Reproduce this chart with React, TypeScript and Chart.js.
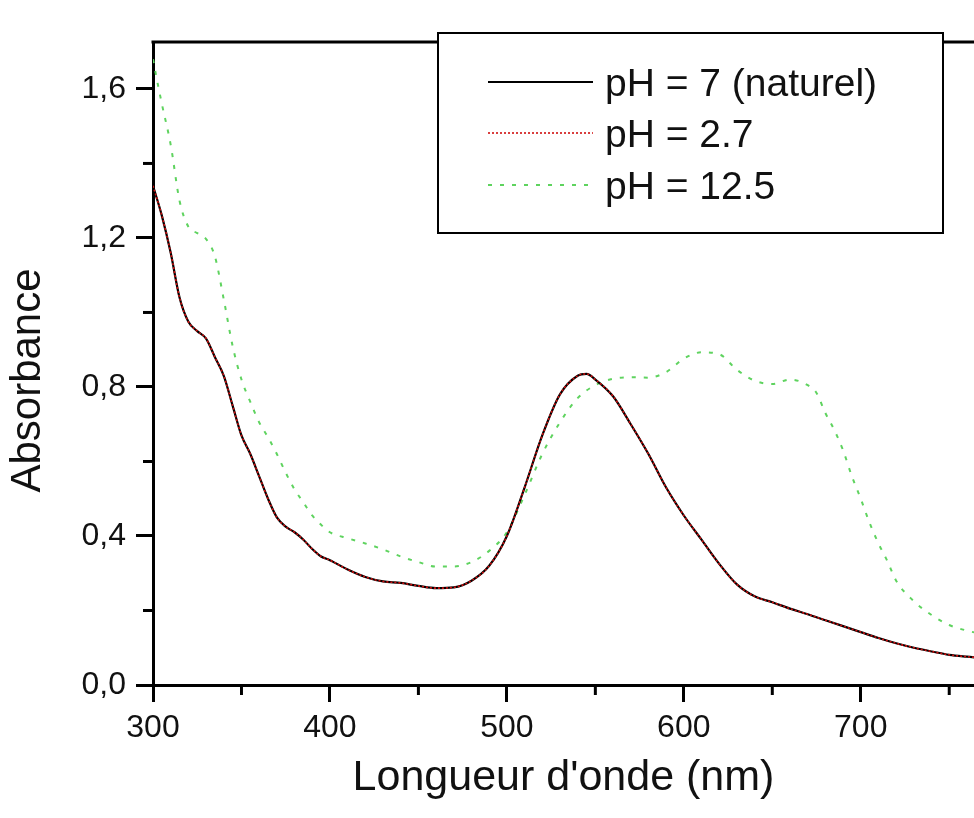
import React, { useEffect, useRef } from 'react';
import { Chart, registerables } from 'chart.js';

Chart.register(...registerables);

// ---- Data ----
const wavelengthsNeutral = [
  300, 305, 310, 315, 320, 325, 330, 335, 340, 345, 350, 355, 360, 365, 370, 375, 380, 385, 390, 395, 400,
  410, 420, 430, 440, 450, 460, 470, 480, 490, 500, 510, 520, 530, 540, 545,
  550, 560, 570, 580, 590, 600, 610, 620, 630, 640, 650, 660, 670, 680, 690, 700, 710, 720, 730, 740, 750, 760, 770, 780, 790, 800,
];
const absNaturel = [
  1.34, 1.26, 1.16, 1.04, 0.975, 0.95, 0.93, 0.88, 0.83, 0.75, 0.67, 0.62, 0.56, 0.5, 0.45, 0.425, 0.41, 0.39, 0.365, 0.345, 0.335,
  0.31, 0.29, 0.278, 0.274, 0.266, 0.26, 0.262, 0.28, 0.32, 0.4, 0.53, 0.67, 0.78, 0.83, 0.835,
  0.82, 0.775, 0.7, 0.62, 0.53, 0.455, 0.39, 0.325, 0.27, 0.238, 0.222, 0.205, 0.19, 0.174, 0.158, 0.142, 0.126, 0.112, 0.1, 0.09, 0.081, 0.076, 0.072, 0.068, 0.065, 0.062,
];
const absAcide = [
  1.34, 1.26, 1.16, 1.04, 0.975, 0.95, 0.93, 0.88, 0.83, 0.75, 0.67, 0.62, 0.56, 0.5, 0.45, 0.425, 0.41, 0.39, 0.365, 0.345, 0.335,
  0.31, 0.29, 0.278, 0.274, 0.266, 0.26, 0.262, 0.28, 0.32, 0.4, 0.53, 0.67, 0.78, 0.83, 0.835,
  0.82, 0.775, 0.7, 0.62, 0.53, 0.455, 0.39, 0.325, 0.27, 0.238, 0.222, 0.205, 0.19, 0.174, 0.158, 0.142, 0.126, 0.112, 0.1, 0.09, 0.081, 0.076, 0.072, 0.068, 0.065, 0.062,
];
const wavelengthsBasique = [
  300, 302, 305, 310, 315, 320, 325, 330, 335, 340, 345, 350, 355, 360, 365, 370, 375, 380, 385, 390, 395, 400,
  410, 420, 430, 440, 450, 460, 470, 480, 490, 500, 510, 520, 530, 540, 550, 560, 570, 580, 590, 600, 610, 620, 630, 640, 650, 660, 670,
  675, 680, 685, 690, 695, 700, 705, 710, 715, 720,
  730, 740, 750, 760, 770, 780, 790, 800,
];
const absBasique = [
  1.68, 1.63, 1.56, 1.45, 1.3, 1.23, 1.213, 1.197, 1.15, 1.035, 0.91, 0.82, 0.76, 0.705, 0.665, 0.62, 0.57, 0.525, 0.49, 0.455, 0.43, 0.41,
  0.394, 0.38, 0.364, 0.345, 0.33, 0.318, 0.318, 0.33, 0.36, 0.41, 0.51, 0.62, 0.705, 0.77, 0.805, 0.822, 0.826, 0.825, 0.84, 0.876, 0.893, 0.888, 0.846, 0.817, 0.808, 0.82, 0.805,
  0.784, 0.73, 0.685, 0.63, 0.56, 0.5, 0.435, 0.38, 0.333, 0.28,
  0.225, 0.188, 0.161, 0.146, 0.136, 0.13, 0.124, 0.12,
];

const seriesLabels = ['pH = 7 (naturel)', 'pH = 2.7', 'pH = 12.5'];
const xTitle = "Longueur d'onde (nm)";
const yTitle = 'Absorbance';

const xMin = 300;
const xMax = 764;
const yMin = 0;
const yMax = 1.726;
const xMajorTicks = [300, 400, 500, 600, 700];
const xMinorTicks = [350, 450, 550, 650, 750];
const yMajorTicks = [0, 0.4, 0.8, 1.2, 1.6];
const yMinorTicks = [0.2, 0.6, 1.0, 1.4];

const FONT = "'Liberation Sans', Arial, Helvetica, sans-serif";

const toPoints = (xs: number[], ys: number[]) => xs.map((x, i) => ({ x, y: ys[i] }));

const framePlugin = {
  id: 'frameAndLegend',
  afterDraw(chart: any) {
    const { ctx, chartArea, scales } = chart;
    const { left, top, right, bottom } = chartArea;
    ctx.save();
    // top frame line
    ctx.strokeStyle = '#000';
    ctx.lineWidth = 3;
    ctx.beginPath();
    ctx.moveTo(left - 1.5, top);
    ctx.lineTo(right + 2, top);
    ctx.stroke();
    // minor ticks
    ctx.lineWidth = 3;
    xMinorTicks.forEach((v) => {
      const px = scales.x.getPixelForValue(v);
      if (px > right + 1) return;
      ctx.beginPath();
      ctx.moveTo(px, bottom);
      ctx.lineTo(px, bottom + 10);
      ctx.stroke();
    });
    yMinorTicks.forEach((v) => {
      const py = scales.y.getPixelForValue(v);
      ctx.beginPath();
      ctx.moveTo(left, py);
      ctx.lineTo(left - 10, py);
      ctx.stroke();
    });

    // y axis title (sits slightly below the axis centre in the reference)
    ctx.save();
    ctx.translate(left - 125, (top + bottom) / 2 + 17);
    ctx.rotate(-Math.PI / 2);
    ctx.fillStyle = '#111';
    ctx.font = `42px ${FONT}`;
    ctx.textAlign = 'center';
    ctx.textBaseline = 'middle';
    ctx.fillText(yTitle, 0, 0);
    ctx.restore();

    // legend box
    const bx = left + 285;
    const by = top - 9;
    const bw = 505;
    const bh = 200;
    ctx.fillStyle = '#fff';
    ctx.fillRect(bx, by, bw, bh);
    ctx.lineWidth = 2;
    ctx.strokeStyle = '#000';
    ctx.strokeRect(bx, by, bw, bh);

    const rows = [49, 100, 152];
    [0, 1, 2].forEach((di, r) => {
      const ds = chart.data.datasets[di];
      const y = by + rows[r];
      ctx.save();
      ctx.strokeStyle = ds.borderColor;
      ctx.lineWidth = ds.borderWidth;
      ctx.setLineDash(ds.borderDash || []);
      ctx.beginPath();
      ctx.moveTo(bx + 50, y);
      ctx.lineTo(bx + 155, y);
      ctx.stroke();
      ctx.restore();
      ctx.fillStyle = '#111';
      ctx.font = `39px ${FONT}`;
      ctx.textBaseline = 'alphabetic';
      ctx.textAlign = 'left';
      ctx.fillText(ds.label, bx + 167, y + 14);
    });
    ctx.restore();
  },
};

export default function App() {
  const canvasRef = useRef<HTMLCanvasElement | null>(null);

  useEffect(() => {
    const canvas = canvasRef.current;
    if (!canvas) return;
    const chart = new Chart(canvas, {
      type: 'line',
      data: {
        datasets: [
          {
            label: seriesLabels[0],
            data: toPoints(wavelengthsNeutral, absNaturel),
            borderColor: '#000000',
            borderWidth: 2.2,
            borderDash: [],
            pointRadius: 0,
            cubicInterpolationMode: 'monotone',
            fill: false,
            order: 2,
          },
          {
            label: seriesLabels[1],
            data: toPoints(wavelengthsNeutral, absAcide),
            borderColor: '#d01010',
            borderWidth: 1.6,
            borderDash: [2, 2],
            pointRadius: 0,
            cubicInterpolationMode: 'monotone',
            fill: false,
            order: 1,
          },
          {
            label: seriesLabels[2],
            data: toPoints(wavelengthsBasique, absBasique),
            borderColor: '#5fd35f',
            borderWidth: 2,
            borderDash: [4, 8],
            pointRadius: 0,
            cubicInterpolationMode: 'monotone',
            fill: false,
            order: 3,
          },
        ],
      },
      options: {
        animation: false,
        responsive: false,
        devicePixelRatio: 1,
        events: [],
        layout: { padding: { top: 42, right: 0, left: 0, bottom: 0 } },
        plugins: {
          legend: { display: false },
          tooltip: { enabled: false },
        },
        scales: {
          x: {
            type: 'linear',
            min: xMin,
            max: xMax,
            afterBuildTicks: (scale: any) => {
              scale.ticks = xMajorTicks.map((v) => ({ value: v }));
            },
            afterFit: (scale: any) => {
              scale.height = 133;
            },
            grid: {
              drawOnChartArea: false,
              drawTicks: true,
              tickLength: 17,
              color: '#000',
              lineWidth: 3,
            },
            border: { display: true, color: '#000', width: 3 },
            ticks: {
              color: '#111',
              padding: 7,
              font: { family: FONT, size: 32 },
              callback: (v: any) => String(v),
            },
            title: {
              display: true,
              text: xTitle,
              color: '#111',
              font: { family: FONT, size: 43 },
              padding: { top: 0, bottom: 14 },
            },
          },
          y: {
            type: 'linear',
            min: yMin,
            max: yMax,
            afterBuildTicks: (scale: any) => {
              scale.ticks = yMajorTicks.map((v) => ({ value: v }));
            },
            afterFit: (scale: any) => {
              scale.width = 153;
            },
            grid: {
              drawOnChartArea: false,
              drawTicks: true,
              tickLength: 17,
              color: '#000',
              lineWidth: 3,
            },
            border: { display: true, color: '#000', width: 3 },
            ticks: {
              color: '#111',
              padding: 10,
              font: { family: FONT, size: 32 },
              callback: (v: any) => Number(v).toFixed(1).replace('.', ','),
            },
            title: { display: false },
          },
        },
      },
      plugins: [framePlugin],
    } as any);
    return () => chart.destroy();
  }, []);

  return (
    <div
      style={{
        position: 'fixed',
        left: 0,
        top: 0,
        width: 974,
        height: 818,
        background: '#fff',
        overflow: 'hidden',
      }}
    >
      <canvas ref={canvasRef} width={974} height={818} style={{ width: 974, height: 818, display: 'block' }} />
    </div>
  );
}
